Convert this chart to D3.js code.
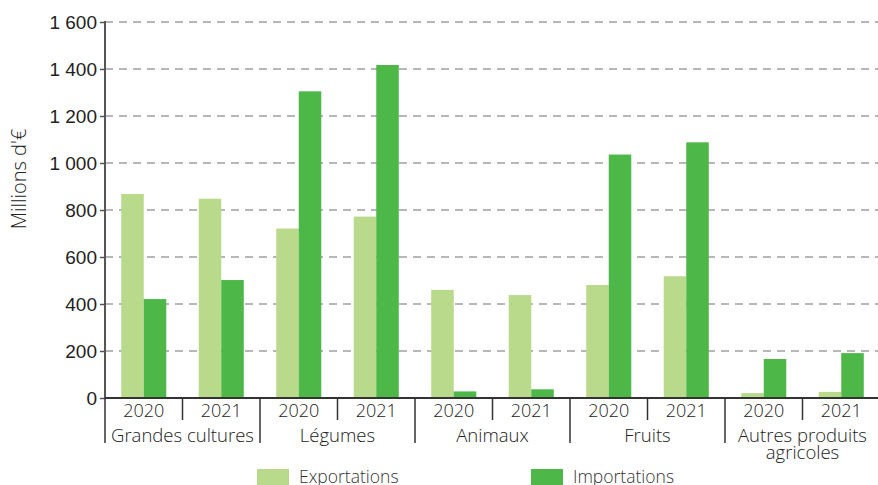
<!DOCTYPE html>
<html>
<head>
<meta charset="utf-8">
<script src="https://cdn.jsdelivr.net/npm/d3@7"></script>
<style>
  body { margin: 0; background: #fff; }
  svg { display: block; font-family: "Open Sans", Lato, sans-serif; font-weight: 300; }
  .grid line { stroke: #a0a0a0; stroke-width: 1.5; stroke-dasharray: 8 6; }
  .axis text { fill: #222; font-size: 19px; }
  .axis text.year { font-size: 18px; }
  .axis text.cat { font-size: 18.5px; }
</style>
</head>
<body>
<svg class="chart" width="878" height="485"></svg>
<script>
var categories = ["Grandes cultures", "Légumes", "Animaux", "Fruits", "Autres produits agricoles"];
var years = ["2020", "2021"];
var series = ["Exportations", "Importations"];
// values per category, per year: [2020, 2021]
var exportations = [[868, 848], [721, 772], [460, 438], [481, 518], [21, 26]];
var importations = [[421, 502], [1305, 1417], [28, 37], [1036, 1088], [166, 191]];
var yTicks = [0, 200, 400, 600, 800, 1000, 1200, 1400, 1600];

(function () {
  var svg = d3.select(".chart");
  var left = 105, right = 880, top = 22, bottom = 398;
  var colours = { "Exportations": "#b9d98b", "Importations": "#4db848" };

  var fmt = d3.formatLocale({ decimal: ",", thousands: " ", grouping: [3], currency: ["", " €"] }).format(",d");

  var yscale = d3.scaleLinear().domain([0, 1600]).range([bottom, top]);
  var x0 = d3.scaleBand().domain(categories).range([left, right]);
  var x1 = d3.scaleBand().domain(years).range([0, x0.bandwidth()]);
  var x2 = d3.scaleBand().domain(series).range([0, x1.bandwidth()]).paddingInner(0).paddingOuter(0.72);

  // grid
  svg.append("g")
    .attr("class", "grid")
    .selectAll("line")
    .data(yTicks.filter(function (d) { return d > 0; }))
    .enter().append("line")
      .attr("x1", left).attr("x2", 878)
      .attr("y1", function (d) { return yscale(d); })
      .attr("y2", function (d) { return yscale(d); });

  // bars
  var rows = [];
  categories.forEach(function (c, i) {
    years.forEach(function (y, j) {
      rows.push({ cat: c, year: y, series: "Exportations", value: exportations[i][j] });
      rows.push({ cat: c, year: y, series: "Importations", value: importations[i][j] });
    });
  });
  svg.append("g").selectAll("rect")
    .data(rows)
    .enter().append("rect")
      .attr("x", function (d) { return x0(d.cat) + x1(d.year) + x2(d.series); })
      .attr("y", function (d) { return yscale(d.value); })
      .attr("width", x2.bandwidth())
      .attr("height", function (d) { return bottom - yscale(d.value); })
      .style("fill", function (d) { return colours[d.series]; });

  // y axis
  var yaxis = d3.axisLeft(yscale).tickValues(yTicks).tickFormat(fmt).tickSize(5).tickPadding(3);
  var ya = svg.append("g")
    .attr("class", "axis")
    .attr("transform", "translate(" + left + ",0)")
    .call(yaxis);
  ya.select(".domain").remove();
  ya.selectAll(".tick line").attr("stroke", "#555").attr("stroke-width", 1.5);
  ya.selectAll(".tick text").attr("dy", "0.34em");
  svg.append("line")
    .attr("x1", left).attr("x2", left).attr("y1", top - 1).attr("y2", bottom)
    .attr("stroke", "#555").attr("stroke-width", 2);

  svg.append("text")
    .attr("transform", "translate(26," + ((top + bottom) / 2 - 31) + ") rotate(-90)")
    .attr("text-anchor", "middle")
    .style("font-size", "20px").style("fill", "#222")
    .text("Millions d'€");

  // x axis
  svg.append("line")
    .attr("x1", left).attr("x2", 878).attr("y1", bottom).attr("y2", bottom)
    .attr("stroke", "#333").attr("stroke-width", 2);

  var xa = svg.append("g").attr("class", "axis");
  categories.forEach(function (c) {
    years.forEach(function (y, j) {
      xa.append("text")
        .attr("class", "year")
        .attr("x", x0(c) + x1(y) + x1.bandwidth() / 2)
        .attr("y", 417)
        .attr("text-anchor", "middle")
        .text(y);
      if (j > 0) {
        xa.append("line")
          .attr("x1", x0(c) + x1(y)).attr("x2", x0(c) + x1(y))
          .attr("y1", bottom).attr("y2", 420)
          .attr("stroke", "#333").attr("stroke-width", 1.5);
      }
    });
    xa.append("line")
      .attr("x1", x0(c)).attr("x2", x0(c))
      .attr("y1", bottom).attr("y2", 443)
      .attr("stroke", "#333").attr("stroke-width", 1.5);

    // category label, wrapped to group width
    var label = xa.append("text")
      .attr("class", "cat")
      .attr("x", x0(c) + x0.bandwidth() / 2)
      .attr("y", 442)
      .attr("text-anchor", "middle");
    var words = c.split(" ");
    var line = [];
    var tspan = label.append("tspan").attr("x", x0(c) + x0.bandwidth() / 2);
    words.forEach(function (w) {
      line.push(w);
      tspan.text(line.join(" "));
      if (tspan.node().getComputedTextLength() > x0.bandwidth() && line.length > 1) {
        line.pop();
        tspan.text(line.join(" "));
        line = [w];
        tspan = label.append("tspan")
          .attr("x", x0(c) + x0.bandwidth() / 2)
          .attr("dy", 17)
          .text(w);
      }
    });
  });

  // legend
  var legend = svg.append("g");
  var legendX = [257, 531];
  series.forEach(function (s, i) {
    legend.append("rect")
      .attr("x", legendX[i]).attr("y", 469)
      .attr("width", 32).attr("height", 16)
      .style("fill", colours[s]);
    legend.append("text")
      .attr("x", legendX[i] + 42).attr("y", 483)
      .style("font-size", "17.5px").style("fill", "#333")
      .text(s);
  });
})();
</script>
</body>
</html>
